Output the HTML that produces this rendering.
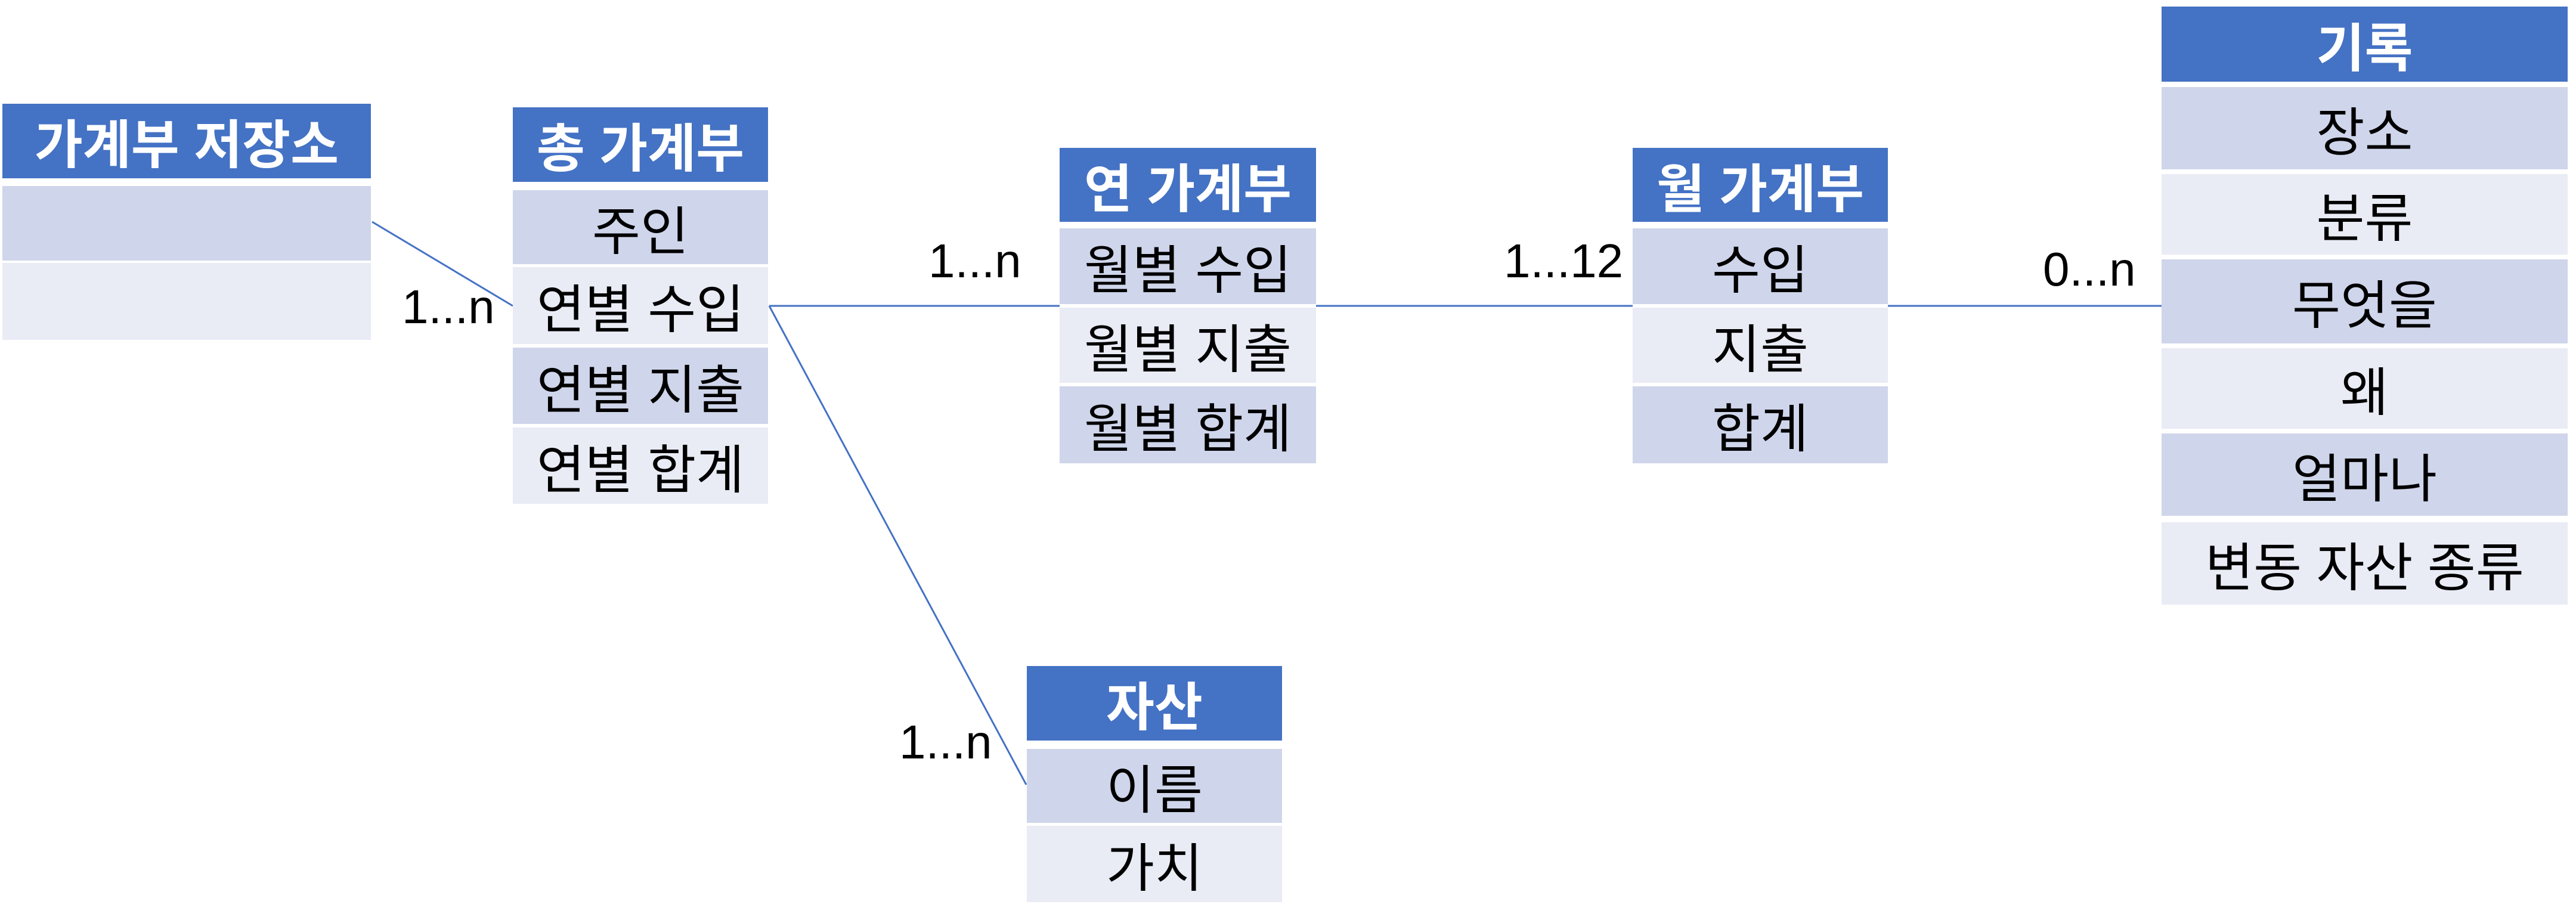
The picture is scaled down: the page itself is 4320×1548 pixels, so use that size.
<!DOCTYPE html>
<html><head><meta charset="utf-8"><style>
html,body{margin:0;padding:0;background:#fff;}
body{width:4320px;height:1548px;position:relative;overflow:hidden;font-family:"Liberation Sans","Noto Sans CJK KR",sans-serif;}
.b{position:absolute;display:flex;align-items:center;justify-content:center;font-size:88px;color:#000;white-space:nowrap;}
.h{background:#4472C4;color:#fff;font-weight:bold;}
.d{background:#CFD5EA;}
.l{background:#E9EBF5;}
.t{position:absolute;font-size:80px;color:#000;white-space:nowrap;line-height:1;}
svg{position:absolute;left:0;top:0;}
</style></head><body>
<svg width="4320" height="1548">
<g stroke="#4472C4" stroke-width="3" fill="none">
<line x1="624" y1="372" x2="860" y2="513"/>
<line x1="1290" y1="513" x2="1777" y2="513"/>
<line x1="1290" y1="513" x2="1721" y2="1316"/>
<line x1="2207" y1="513" x2="2738" y2="513"/>
<line x1="3166" y1="513" x2="3625" y2="513"/>
</g></svg>

<div class="b h" style="left:4px;top:174px;width:618px;height:125px;">가계부 저장소</div>
<div class="b d" style="left:4px;top:312px;width:618px;height:125px;"></div>
<div class="b l" style="left:4px;top:441px;width:618px;height:129px;"></div>

<div class="b h" style="left:860px;top:180px;width:428px;height:125px;">총 가계부</div>
<div class="b d" style="left:860px;top:319px;width:428px;height:124px;">주인</div>
<div class="b l" style="left:860px;top:448px;width:428px;height:129px;">연별 수입</div>
<div class="b d" style="left:860px;top:583px;width:428px;height:128px;">연별 지출</div>
<div class="b l" style="left:860px;top:717px;width:428px;height:128px;">연별 합계</div>

<div class="b h" style="left:1777px;top:248px;width:430px;height:124px;">연 가계부</div>
<div class="b d" style="left:1777px;top:383px;width:430px;height:127px;">월별 수입</div>
<div class="b l" style="left:1777px;top:516px;width:430px;height:126px;">월별 지출</div>
<div class="b d" style="left:1777px;top:648px;width:430px;height:129px;">월별 합계</div>

<div class="b h" style="left:2738px;top:248px;width:428px;height:124px;">월 가계부</div>
<div class="b d" style="left:2738px;top:383px;width:428px;height:127px;">수입</div>
<div class="b l" style="left:2738px;top:516px;width:428px;height:126px;">지출</div>
<div class="b d" style="left:2738px;top:648px;width:428px;height:129px;">합계</div>

<div class="b h" style="left:3625px;top:11px;width:681px;height:126px;">기록</div>
<div class="b d" style="left:3625px;top:146px;width:681px;height:138px;">장소</div>
<div class="b l" style="left:3625px;top:292px;width:681px;height:135px;">분류</div>
<div class="b d" style="left:3625px;top:435px;width:681px;height:141px;">무엇을</div>
<div class="b l" style="left:3625px;top:584px;width:681px;height:135px;">왜</div>
<div class="b d" style="left:3625px;top:727px;width:681px;height:138px;">얼마나</div>
<div class="b l" style="left:3625px;top:876px;width:681px;height:138px;">변동 자산 종류</div>

<div class="b h" style="left:1722px;top:1117px;width:428px;height:125px;">자산</div>
<div class="b d" style="left:1722px;top:1256px;width:428px;height:124px;">이름</div>
<div class="b l" style="left:1722px;top:1385px;width:428px;height:128px;">가치</div>

<div class="t" style="left:674px;top:475px;">1...n</div>
<div class="t" style="left:1557px;top:398px;">1...n</div>
<div class="t" style="left:2522px;top:398px;">1...12</div>
<div class="t" style="left:3426px;top:412px;">0...n</div>
<div class="t" style="left:1508px;top:1205px;">1...n</div>
</body></html>
